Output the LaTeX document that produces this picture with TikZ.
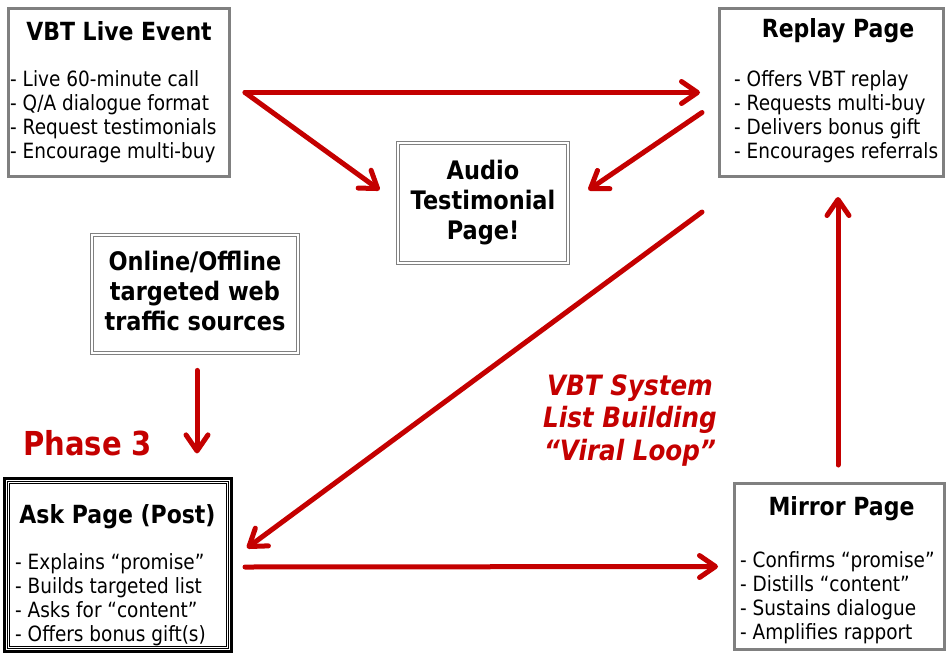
\documentclass[tikz,border=0pt]{standalone}
\usepackage{fontspec}
\setmainfont{DejaVu Sans}[FakeStretch=0.88]
\usetikzlibrary{arrows.meta,calc}
\definecolor{vred}{RGB}{196,0,0}
\definecolor{bgray}{RGB}{128,128,128}
\begin{document}
\begin{tikzpicture}[x=1pt,y=-1pt,
  graybox/.style={draw=bgray, line width=3pt, inner sep=0pt},
  dblbox/.style={draw=bgray, double, double distance=2pt, line width=1.2pt, inner sep=0pt},
  titletxt/.style={font=\fontsize{25}{29}\selectfont\bfseries, anchor=base, inner sep=0pt},
  listtxt/.style={font=\fontsize{21}{24}\selectfont, anchor=base west, inner sep=0pt},
  midtxt/.style={font=\fontsize{25.5}{30}\selectfont\bfseries, anchor=base, inner sep=0pt},
  arr/.style={vred, line width=5pt, line cap=round, -{Straight Barb[round,length=16pt,width=22pt]}}]
\useasboundingbox (0,0) rectangle (948,654);

% boxes
\node[graybox, minimum width=221pt, minimum height=168pt] (live) at (119,92.5) {};
\node[graybox, minimum width=224pt, minimum height=168pt] (replay) at (831.5,92.5) {};
\node[dblbox, minimum width=169.6pt, minimum height=119.6pt] (audio) at (483,203) {};
\node[dblbox, minimum width=205.6pt, minimum height=117.6pt] (online) at (195,294) {};
\node[draw=black, line width=3pt, inner sep=0pt, minimum width=227pt, minimum height=173pt] (ask) at (118,565) {};
\draw[line width=1pt] ($(ask.north west)+(4.5,4.5)$) rectangle ($(ask.south east)+(-4.5,-4.5)$);
\draw[line width=1pt] ($(ask.north west)+(6.8,6.8)$) rectangle ($(ask.south east)+(-6.8,-6.8)$);
\node[graybox, minimum width=210pt, minimum height=166pt] (mirror) at (839.5,566.5) {};

% texts
\node[titletxt] (livet) at (119,40) {VBT Live Event};
\node[listtxt] (livel) at (10,86) {\begin{tabular}[t]{@{}l@{}}- Live 60-minute call\\- Q/A dialogue format\\- Request testimonials\\- Encourage multi-buy\end{tabular}};
\node[titletxt] (replayt) at (838,37) {Replay Page};
\node[listtxt] (replayl) at (734,86) {\begin{tabular}[t]{@{}l@{}}- Offers VBT replay\\- Requests multi-buy\\- Delivers bonus gift\\- Encourages referrals\end{tabular}};
\node[midtxt] (audiot) at (483,179) {\begin{tabular}[t]{@{}c@{}}Audio\\Testimonial\\Page!\end{tabular}};
\node[midtxt] (onlinet) at (195,270) {\begin{tabular}[t]{@{}c@{}}Online/Offline\\targeted web\\traffic sources\end{tabular}};
\node[titletxt] (askt) at (117.5,523) {Ask Page (Post)};
\node[listtxt] (askl) at (15,569) {\begin{tabular}[t]{@{}l@{}}- Explains “promise”\\- Builds targeted list\\- Asks for “content”\\- Offers bonus gift(s)\end{tabular}};
\node[titletxt] (mirrort) at (841.5,515) {Mirror Page};
\node[listtxt] (mirrorl) at (740,567) {\begin{tabular}[t]{@{}l@{}}- Confirms “promise”\\- Distills “content”\\- Sustains dialogue\\- Amplifies rapport\end{tabular}};
\node[font=\fontsize{33}{36}\selectfont\bfseries, text=vred, anchor=base west, inner sep=0pt] (phase) at (23,455) {Phase 3};
\node[font=\fontsize{28}{32.5}\selectfont\bfseries\itshape, text=vred, anchor=base, inner sep=0pt] (viral) at (630,395) {\begin{tabular}[t]{@{}c@{}}VBT System\\List Building\\“Viral Loop”\end{tabular}};

% arrows
\draw[arr] ([xshift=14pt]live.east) -- ([xshift=-18pt]replay.west);
\draw[arr] ([xshift=14pt]live.east) -- ($(audio.west)+(-18,-13)$);
\draw[arr] ($(replay.west)+(-16,20)$) -- ($(audio.east)+(20,-13)$);
\draw[arr] ($(replay.south west)+(-16,34)$) -- ($(ask.east)+(14,-17)$);
\draw[arr] ($(ask.east)+(12,2)$) -- ($(mirror.west)+(-15,0)$);
\draw[arr] ($(mirror.north)+(-1.5,-17)$) -- ($(replay.south)+(6.5,19)$);
\draw[arr] ($(online.south)+(2,17)$) -- ++(0,83);
\end{tikzpicture}
\end{document}
